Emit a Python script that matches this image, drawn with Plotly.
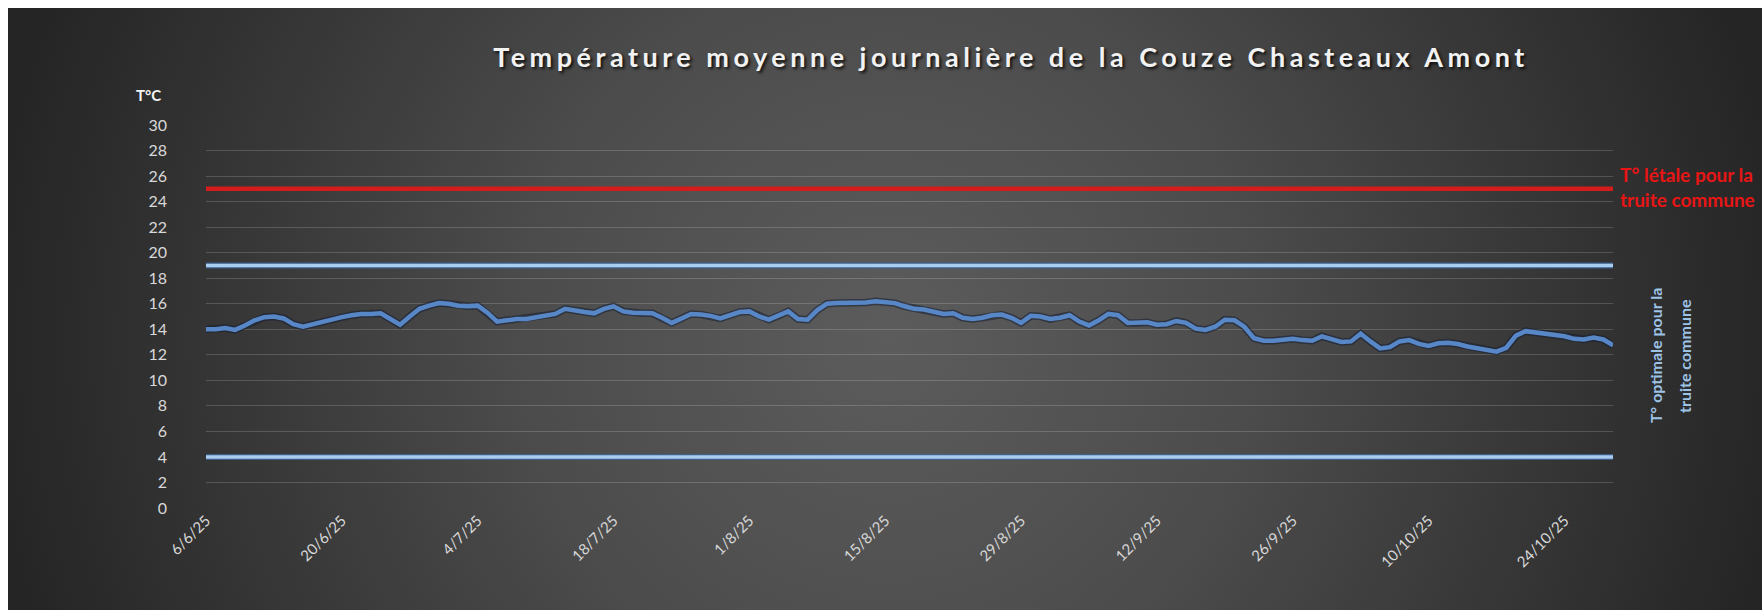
import base64
import pandas as pd
import plotly.graph_objects as go

# Daily mean water temperature (°C), 6 June -> 29 October 2025
dates = pd.date_range("2025-06-06", "2025-10-29", freq="D")
temps = [
    14.0, 14.0, 14.1, 13.95, 14.3, 14.7, 14.95, 15.0, 14.85, 14.4,
    14.2, 14.4, 14.6, 14.8, 14.95, 15.1, 15.2, 15.2, 15.25, 14.8,
    14.35, 15.0, 15.6, 15.85, 16.05, 16.0, 15.85, 15.8, 15.85, 15.3,
    14.6, 14.7, 14.8, 14.8, 14.95, 15.1, 15.2, 15.6, 15.45, 15.35,
    15.25, 15.6, 15.8, 15.4, 15.3, 15.25, 15.25, 14.9, 14.5, 14.85,
    15.2, 15.15, 15.05, 14.85, 15.1, 15.35, 15.4, 15.0, 14.75, 15.05,
    15.4, 14.8, 14.75, 15.5, 16.0, 16.05, 16.05, 16.05, 16.1, 16.2,
    16.15, 16.05, 15.8, 15.6, 15.55, 15.35, 15.2, 15.25, 14.9, 14.8,
    14.9, 15.1, 15.15, 14.9, 14.5, 15.05, 15.0, 14.8, 14.9, 15.1,
    14.6, 14.3, 14.7, 15.2, 15.1, 14.5, 14.5, 14.55, 14.35, 14.4,
    14.65, 14.5, 14.05, 13.95, 14.2, 14.75, 14.7, 14.2, 13.3, 13.1,
    13.1, 13.15, 13.25, 13.15, 13.1, 13.45, 13.25, 13.0, 13.05, 13.65,
    13.05, 12.5, 12.6, 13.05, 13.15, 12.85, 12.7, 12.9, 12.95, 12.85,
    12.65, 12.5, 12.4, 12.25, 12.55, 13.5, 13.85, 13.75, 13.7, 13.55,
    13.45, 13.25, 13.2, 13.35, 13.2, 12.75,
]
assert len(temps) == len(dates)

# Reference thresholds for brown trout (°C)
lethal_temp = 25
optimal_max = 19
optimal_min = 4

y_ticks = list(range(0, 31, 2))

FONT = "Lato"
span = [dates[0], dates[-1]]

fig = go.Figure()

# lethal threshold
fig.add_trace(go.Scatter(x=span, y=[lethal_temp] * 2, mode="lines",
                         line=dict(color="#D41C1C", width=4.5), hoverinfo="skip"))

# optimal range bounds (dark rim + light core)
for level in (optimal_max, optimal_min):
    fig.add_trace(go.Scatter(x=span, y=[level] * 2, mode="lines",
                             line=dict(color="rgba(60,100,150,0.85)", width=6), hoverinfo="skip"))
    fig.add_trace(go.Scatter(x=span, y=[level] * 2, mode="lines",
                             line=dict(color="#A9CDEE", width=3.5), hoverinfo="skip"))

# daily temperature series with a soft dark under-stroke
fig.add_trace(go.Scatter(x=dates, y=temps, mode="lines",
                         line=dict(color="rgba(20,30,50,0.55)", width=7.5), hoverinfo="skip"))
fig.add_trace(go.Scatter(x=dates, y=temps, mode="lines",
                         line=dict(color="#5887C8", width=4.5), name="T°C"))

# dark radial backdrop behind the whole chart
W, H = 1762, 613
L, R, T, B = 206, 149, 125, 105
pw, ph = W - L - R, H - T - B
bx0, by0, bx1, by1 = 8, 8, W, 610
svg = (
    f'<svg xmlns="http://www.w3.org/2000/svg" width="{bx1 - bx0}" height="{by1 - by0}" '
    f'viewBox="0 0 {bx1 - bx0} {by1 - by0}" preserveAspectRatio="none">'
    '<defs><radialGradient id="g" gradientUnits="userSpaceOnUse" cx="880" cy="330" r="900">'
    '<stop offset="0" stop-color="#5c5c5c"/><stop offset="0.4" stop-color="#4c4c4c"/>'
    '<stop offset="1" stop-color="#252525"/></radialGradient></defs>'
    f'<rect width="{bx1 - bx0}" height="{by1 - by0}" fill="url(#g)"/></svg>'
)
bg_src = "data:image/svg+xml;base64," + base64.b64encode(svg.encode()).decode()


def px_x(p):
    return (p - L) / pw


def px_y(p):
    return (H - B - p) / ph


fig.update_layout(
    width=W, height=H,
    margin=dict(l=L, r=R, t=T, b=B, pad=0),
    paper_bgcolor="white",
    plot_bgcolor="rgba(0,0,0,0)",
    showlegend=False,
    font=dict(family=FONT, color="#D9D9D9"),
    images=[dict(source=bg_src, xref="paper", yref="paper",
                 x=px_x(bx0), y=px_y(by0),
                 sizex=(bx1 - bx0) / pw, sizey=(by1 - by0) / ph,
                 xanchor="left", yanchor="top", sizing="stretch", layer="below")],
    title=dict(text="Température moyenne journalière de la Couze Chasteaux Amont",
               x=1011 / W, y=1 - 58 / H, xref="container", yref="container",
               xanchor="center", yanchor="middle",
               font=dict(family=FONT, size=27, color="#F2F2F2", weight="bold",
                         shadow="2px 2px 3px rgba(0,0,0,0.8)")),
    xaxis=dict(type="date", range=span, tick0=dates[0], dtick=14 * 86400000,
               tickformat="%-d/%-m/%y", tickangle=-45, showgrid=False, zeroline=False,
               showline=False, ticks="", tickfont=dict(size=15, color="#D9D9D9")),
    yaxis=dict(range=[0, 30], tickvals=y_ticks, showgrid=True,
               gridcolor="rgba(255,255,255,0.17)", gridwidth=1, zeroline=False,
               showline=False, ticks="", ticklabelstandoff=38,
               tickfont=dict(size=16, color="#D9D9D9")),
    annotations=[
        dict(text="<b>T°C</b>", xref="paper", yref="paper", x=px_x(148), y=px_y(95),
             xanchor="center", yanchor="middle", showarrow=False,
             font=dict(family=FONT, size=15, color="#F2F2F2")),
        dict(text="<b>T° létale pour la<br>truite commune</b>", xref="paper", yref="paper",
             x=px_x(1618), y=px_y(187), xanchor="left", yanchor="middle", align="left",
             showarrow=False, font=dict(family=FONT, size=19, color="#E81515")),
        dict(text="<b>T° optimale pour la</b>", xref="paper", yref="paper",
             x=px_x(1655), y=px_y(356), xanchor="center", yanchor="middle", textangle=-90,
             showarrow=False, font=dict(family=FONT, size=16, color="#9DC3E6")),
        dict(text="<b>truite commune</b>", xref="paper", yref="paper",
             x=px_x(1684), y=px_y(356), xanchor="center", yanchor="middle", textangle=-90,
             showarrow=False, font=dict(family=FONT, size=16, color="#9DC3E6")),
    ],
)

# widen the title's letter spacing once the figure is drawn
spacing_js = (
    "document.querySelectorAll('.gtitle').forEach(function(e){"
    "e.style.letterSpacing='4.5px';});"
)
fig.write_html("out.html", post_script=spacing_js)
